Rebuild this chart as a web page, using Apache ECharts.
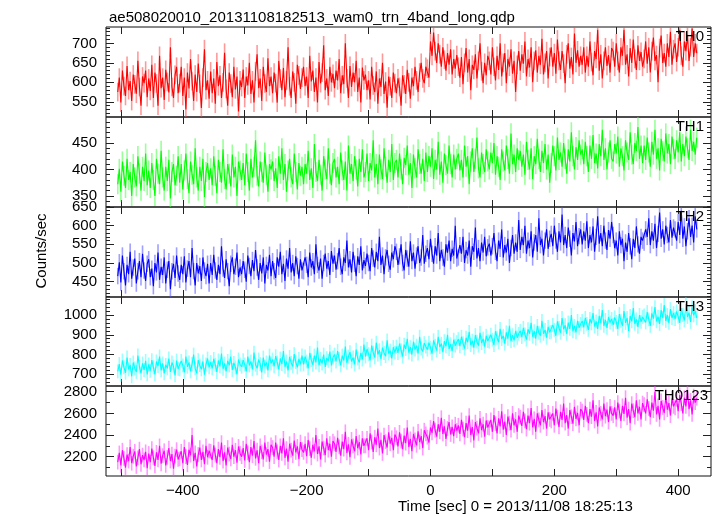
<!DOCTYPE html>
<html>
<head>
<meta charset="utf-8">
<script src="https://cdn.jsdelivr.net/npm/echarts@6/dist/echarts.min.js"></script>
<style>
html,body{margin:0;padding:0;background:#fff;}
#chart{width:717px;height:516px;}
</style>
</head>
<body>
<div id="chart"></div>
<script>
// ---- data ----
const titleText = 'ae508020010_20131108182513_wam0_trn_4band_long.qdp';
const xAxisTitle = 'Time [sec] 0 = 2013/11/08 18:25:13';
const yAxisTitle = 'Counts/sec';
const panelNames = ['TH0', 'TH1', 'TH2', 'TH3', 'TH0123'];
const timeStart = -505;   // first bin centre (sec)
const timeStep = 2.5;     // bin width (sec)
const errHalf = [24, 19, 22, 35, 68];   // typical 1-sigma error bar per band (counts/sec)

const th0 = [
575,612,548,630,590,565,642,580,603,552,620,595,571,655,588,540,615,598,630,562,
610,578,645,560,625,597,540,668,585,612,555,632,601,574,690,588,560,619,640,572,
598,640,565,612,530,625,584,660,603,552,620,575,648,596,534,612,685,580,605,558,
628,572,610,545,652,590,618,560,600,676,583,540,625,597,562,640,582,615,525,605,
588,633,560,615,592,650,570,605,548,628,672,585,610,552,640,597,575,662,590,615,
572,625,598,548,655,610,580,637,562,605,690,590,560,628,600,545,645,618,583,612,
640,590,615,560,668,602,630,575,612,548,652,598,625,695,580,610,565,640,600,622,
585,630,605,660,572,618,595,700,610,560,642,588,625,600,655,575,612,548,638,605,
620,580,605,556,640,592,575,628,545,610,588,650,570,602,535,615,590,560,625,598,
572,610,588,540,618,595,570,632,600,558,612,590,640,605,575,625,650,610,598,640,
635,612,705,668,728,680,650,700,672,640,690,658,630,675,645,685,620,660,635,670,
640,612,665,595,650,688,625,660,580,645,632,672,610,655,700,628,598,650,618,668,
655,620,690,640,605,668,632,700,615,650,675,598,660,640,685,622,655,575,645,680,
630,672,648,705,615,660,638,690,600,655,682,625,668,645,712,620,650,680,610,665,
690,640,675,622,710,655,632,680,648,598,672,700,635,665,620,725,650,682,640,668,
645,690,625,668,640,705,652,618,680,660,735,630,672,610,655,690,642,670,625,688,
680,640,700,655,625,690,668,735,645,672,615,688,650,710,660,632,695,655,678,640,
660,705,648,690,625,680,715,655,670,600,688,720,650,675,640,700,665,730,645,685,
700,652,690,735,668,640,705,680,722,655,690,738,665,700,675];

const th1 = [
372,401,358,415,388,365,420,380,395,350,410,385,368,425,392,360,405,378,430,370,
398,365,412,380,350,420,392,372,435,385,360,405,378,418,345,395,410,370,388,425,
375,410,362,398,430,382,355,415,390,372,440,385,360,405,378,420,348,395,412,380,
402,370,425,388,355,418,395,375,438,382,362,410,392,368,428,385,405,350,415,398,
380,412,370,430,395,360,420,385,405,455,388,368,415,395,375,432,390,358,410,400,
415,378,402,365,425,392,440,380,410,358,398,420,385,372,430,395,362,412,388,405,
372,410,392,435,380,402,365,448,395,378,418,390,360,425,400,382,440,392,370,412,
420,385,405,372,432,398,380,415,360,445,392,410,378,425,400,368,420,395,438,385,
395,430,378,412,398,455,385,410,372,428,400,382,440,405,375,418,395,448,380,412,
418,385,430,400,372,422,408,445,390,412,365,428,402,385,438,410,392,420,378,432,
395,425,405,440,382,418,400,452,390,415,375,430,408,392,445,410,385,428,400,420,
430,398,418,385,445,405,425,372,415,440,395,420,460,402,385,432,410,395,438,415,
400,432,412,450,390,425,405,380,438,415,398,445,420,392,468,410,428,395,440,418,
435,405,428,390,452,418,400,440,382,425,410,458,420,395,435,412,448,400,428,375,
412,445,425,398,460,418,432,405,450,420,392,438,415,470,425,400,442,418,455,428,
438,410,452,425,395,445,420,465,412,430,402,448,425,475,418,440,400,432,455,420,
415,448,430,462,405,440,425,398,455,432,418,470,428,410,450,435,480,420,445,412,
445,418,460,432,405,452,428,475,420,440,398,458,435,415,468,430,448,410,462,438,
420,455,432,470,415,448,425,462,440,418,475,435,452,428,460];

const th2 = [
465,502,448,520,478,440,495,470,530,458,488,512,445,478,505,462,525,480,452,498,
510,462,485,438,500,475,528,455,490,468,515,445,482,505,430,478,498,460,520,472,
455,495,470,518,448,485,505,462,540,478,440,500,472,492,452,515,480,465,498,445,
500,468,522,480,455,495,470,545,485,460,510,478,438,498,515,470,490,528,462,488,
470,505,482,450,520,492,465,508,478,535,488,455,500,472,515,445,495,480,522,465,
505,478,460,515,490,530,470,498,452,512,485,540,475,500,465,518,492,458,510,480,
478,515,495,462,528,488,505,470,550,495,480,512,458,500,525,485,505,468,532,498,
520,482,505,540,490,470,515,500,560,488,510,475,530,498,465,518,495,545,480,508,
492,525,500,478,540,512,488,530,505,570,495,520,470,515,535,498,482,528,510,545,
530,495,518,550,500,480,535,512,490,558,505,528,485,520,545,500,515,575,498,525,
540,510,565,525,498,545,520,580,505,535,515,490,550,528,560,505,538,520,600,512,
515,548,525,570,500,535,520,560,490,545,530,595,512,540,505,555,528,570,518,542,
552,520,545,580,530,505,560,538,590,515,548,528,565,500,540,575,525,555,530,615,
535,570,548,600,525,560,540,585,515,555,575,530,620,548,565,520,560,590,538,565,
578,545,600,560,530,585,555,630,548,575,540,595,565,520,580,558,610,545,572,590,
550,585,560,612,540,575,555,598,530,570,625,552,580,545,600,560,535,588,565,610,
575,540,560,520,585,548,565,505,555,530,580,545,510,565,540,598,550,525,570,560,
555,590,570,620,548,585,560,605,540,578,635,565,590,550,600,575,555,615,568,595,
590,560,610,575,640,565,598,545,585,620,570,600,555,625,590];

const th3 = [
715,752,698,770,735,708,785,725,748,690,760,730,712,795,738,705,755,722,768,700,
750,718,772,735,700,765,742,790,720,755,705,748,730,780,712,760,740,695,770,728,
725,768,745,710,790,738,760,715,752,800,730,705,772,745,725,765,698,750,780,735,
762,730,778,748,712,770,740,805,728,755,715,768,745,790,722,758,735,700,775,750,
738,772,750,715,790,745,765,725,810,748,730,775,752,710,785,740,760,720,795,755,
775,740,792,760,725,780,752,818,738,765,720,788,758,740,802,762,735,778,750,795,
750,790,765,730,808,772,748,795,760,835,745,778,755,800,738,782,768,815,745,785,
800,765,818,778,745,795,770,840,758,790,812,765,785,750,825,780,760,808,775,850,
790,828,802,770,845,810,785,860,800,822,778,835,808,792,872,805,820,780,838,810,
840,808,855,822,790,850,828,880,810,838,800,865,825,845,805,890,830,815,858,840,
825,860,835,805,872,845,820,890,838,855,812,868,842,900,828,852,818,875,845,862,
878,842,890,858,830,885,862,915,848,870,835,898,865,845,910,858,880,840,895,868,
865,900,875,848,918,885,862,930,878,895,855,912,880,945,868,898,872,920,885,905,
920,888,935,902,875,928,905,960,890,918,880,945,910,895,970,905,925,885,940,912,
915,950,925,895,968,935,910,985,928,948,905,962,930,1000,918,945,912,970,935,955,
970,938,985,955,925,980,958,1010,942,968,930,995,960,1025,945,975,935,990,962,980,
950,988,965,930,1005,970,945,1020,960,985,920,995,968,1035,955,978,940,1000,965,990,
998,962,1015,978,945,1008,982,1040,968,992,955,1025,985,1050,970,1000,960,1030,985,1010,
980,1018,992,960,1035,1000,972,1055,990,1012,965,1040,998,1020,985];

const th0123 = [
2150,2235,2120,2260,2185,2100,2220,2160,2290,2140,2205,2250,2110,2190,2270,2130,2215,2170,2245,2095,
2230,2150,2275,2190,2115,2240,2170,2300,2135,2210,2255,2120,2195,2280,2160,2225,2090,2205,2265,2175,
2180,2250,2140,2290,2200,2125,2265,2215,2400,2160,2235,2110,2220,2285,2170,2245,2130,2300,2195,2255,
2250,2170,2305,2215,2140,2270,2195,2330,2160,2240,2120,2285,2225,2180,2310,2200,2260,2145,2295,2230,
2200,2280,2165,2320,2235,2150,2290,2210,2345,2185,2260,2140,2300,2245,2175,2330,2220,2270,2155,2310,
2285,2200,2330,2245,2170,2300,2230,2370,2190,2275,2155,2320,2260,2210,2350,2240,2295,2180,2335,2265,
2240,2320,2205,2355,2275,2190,2310,2250,2400,2225,2295,2175,2340,2280,2215,2370,2260,2320,2200,2345,
2320,2245,2375,2290,2210,2340,2270,2430,2235,2315,2195,2360,2300,2250,2390,2280,2335,2220,2370,2300,
2300,2370,2260,2415,2335,2245,2380,2310,2460,2280,2355,2230,2400,2340,2285,2425,2320,2375,2260,2405,
2375,2295,2425,2345,2270,2395,2325,2470,2290,2365,2250,2410,2355,2305,2435,2335,2390,2280,2445,2410,
2380,2330,2470,2420,2530,2445,2385,2500,2430,2560,2410,2480,2365,2460,2520,2405,2475,2390,2500,2440,
2490,2410,2540,2455,2380,2510,2440,2580,2400,2475,2350,2520,2465,2415,2555,2445,2500,2385,2535,2470,
2465,2540,2430,2585,2505,2415,2555,2480,2620,2450,2525,2400,2570,2510,2445,2600,2490,2545,2430,2580,
2565,2485,2615,2530,2455,2580,2510,2650,2470,2550,2430,2600,2540,2490,2630,2520,2575,2460,2610,2545,
2530,2600,2490,2645,2565,2475,2615,2540,2690,2510,2585,2460,2630,2570,2505,2660,2550,2605,2490,2640,
2620,2540,2670,2590,2510,2640,2570,2720,2530,2610,2480,2655,2600,2545,2690,2575,2635,2520,2665,2600,
2580,2655,2545,2700,2620,2530,2670,2595,2745,2560,2640,2510,2690,2625,2565,2720,2600,2660,2545,2695,
2680,2600,2730,2645,2565,2700,2625,2800,2590,2670,2545,2715,2655,2605,2760,2635,2695,2580,2740,2665,
2650,2730,2620,2770,2690,2600,2745,2665,2810,2640,2720,2590,2760,2700,2740];

// axis ranges and ticks
const xRange = [-524, 453];
const xTickValues = [-500, -400, -300, -200, -100, 0, 100, 200, 300, 400];
const xLabelValues = [-400, -200, 0, 200, 400];

const yRanges = [[511, 742], [329, 499], [409, 650], [641, 1091], [2022, 2853]];
const yLabelValues = [
  [550, 600, 650, 700],
  [350, 400, 450],
  [450, 500, 550, 600, 650],
  [700, 800, 900, 1000],
  [2200, 2400, 2600, 2800]
];
const yMinorValues = [
  [520,530,540,560,570,580,590,610,620,630,640,660,670,680,690,710,720,730,740],
  [330,340,360,370,380,390,410,420,430,440,460,470,480,490],
  [410,420,430,440,460,470,480,490,510,520,530,540,560,570,580,590,610,620,630,640],
  [660,680,720,740,760,780,820,840,860,880,920,940,960,980,1020,1040,1060,1080],
  [2100, 2300, 2500, 2700]
];

// ---- styling / layout ----
const colors = ['#ff0000', '#00ff00', '#0000ff', '#00ffff', '#ff00ff'];
const errColors = ['rgba(255,70,70,0.55)', 'rgba(70,255,70,0.55)', 'rgba(80,80,255,0.55)', 'rgba(70,255,255,0.55)', 'rgba(255,70,255,0.55)'];
const FONT = '"Liberation Sans", Arial, Helvetica, sans-serif';
const gridTops = [27, 117, 207, 297, 386];
const gridHeights = [90, 90, 90, 89, 90];
const gridLeft = 106, gridWidth = 605;
const labelRight = [704, 704, 704, 704, 708];
const series = [th0, th1, th2, th3, th0123];

const times = series[0].map((_, i) => timeStart + i * timeStep);
const fmtX = v => (v < 0 ? '\u2212' + (-v) : String(v));
const fmtY = v => String(v);

const grid = [], xAxis = [], yAxis = [], seriesOpt = [], graphic = [];
for (let i = 0; i < 5; i++) {
  grid.push({left: gridLeft, top: gridTops[i], width: gridWidth, height: gridHeights[i],
    show: true, borderColor: '#111', borderWidth: 1, backgroundColor: 'transparent'});
  ['bottom', 'top'].forEach(pos => {
    xAxis.push({
      gridIndex: i, type: 'value', min: xRange[0], max: xRange[1], position: pos,
      axisLine: {show: false, onZero: false}, splitLine: {show: false},
      axisTick: {show: true, inside: true, length: 7, customValues: xTickValues, lineStyle: {color: '#222', width: 1}},
      axisLabel: {show: (i === 4 && pos === 'bottom'), customValues: xLabelValues, formatter: fmtX,
        fontFamily: FONT, fontSize: 15, color: '#000', margin: 7}
    });
  });
  ['left', 'right'].forEach(pos => {
    yAxis.push({
      gridIndex: i, type: 'value', min: yRanges[i][0], max: yRanges[i][1], position: pos,
      axisLine: {show: false, onZero: false}, splitLine: {show: false},
      axisTick: {show: true, inside: true, length: 8, customValues: yLabelValues[i], lineStyle: {color: '#222', width: 1}},
      axisLabel: {show: pos === 'left', customValues: yLabelValues[i], formatter: fmtY, fontFamily: FONT, fontSize: 15, color: '#000', margin: 9}
    });
    yAxis.push({
      gridIndex: i, type: 'value', min: yRanges[i][0], max: yRanges[i][1], position: pos,
      axisLine: {show: false, onZero: false}, splitLine: {show: false},
      axisTick: {show: true, inside: true, length: 4, customValues: yMinorValues[i], lineStyle: {color: '#222', width: 1}},
      axisLabel: {show: false}
    });
  });
  const pts = series[i].map((v, k) => [times[k], v]);
  const err = errHalf[i], ec = errColors[i];
  seriesOpt.push({
    type: 'custom', coordinateSystem: 'cartesian2d', xAxisIndex: 2 * i, yAxisIndex: 4 * i,
    data: pts, silent: true, z: 2, clip: true,
    renderItem: (params, api) => {
      const t = api.value(0), v = api.value(1);
      const a = api.coord([t, v - err]), b = api.coord([t, v + err]);
      return {type: 'line', shape: {x1: a[0], y1: a[1], x2: b[0], y2: b[1]}, style: {stroke: ec, lineWidth: 1.6}};
    }
  });
  seriesOpt.push({
    type: 'line', xAxisIndex: 2 * i, yAxisIndex: 4 * i, data: pts, showSymbol: false, silent: true,
    lineStyle: {color: colors[i], width: 1.1}, z: 3, clip: true
  });
  graphic.push({
    type: 'text', right: 717 - labelRight[i], top: gridTops[i] + 2, z: 100,
    style: {text: panelNames[i], fill: '#000', font: '15px ' + FONT, textAlign: 'right'}
  });
}
graphic.push({
  type: 'text', left: 398, top: 499, z: 100,
  style: {text: xAxisTitle, fill: '#000', font: '15px ' + FONT, textAlign: 'center'}
});
graphic.push({
  type: 'text', x: 42, y: 251, rotation: Math.PI / 2, z: 100,
  style: {text: yAxisTitle, fill: '#000', font: '15px ' + FONT, textAlign: 'center', textVerticalAlign: 'middle'}
});

const chart = echarts.init(document.getElementById('chart'), null, {renderer: 'canvas'});
chart.setOption({
  animation: false,
  backgroundColor: '#fff',
  title: {text: titleText, left: 104, top: 5, textStyle: {fontFamily: FONT, fontSize: 15, fontWeight: 'normal', color: '#000'}},
  grid, xAxis, yAxis, series: seriesOpt, graphic
});
</script>
</body>
</html>
